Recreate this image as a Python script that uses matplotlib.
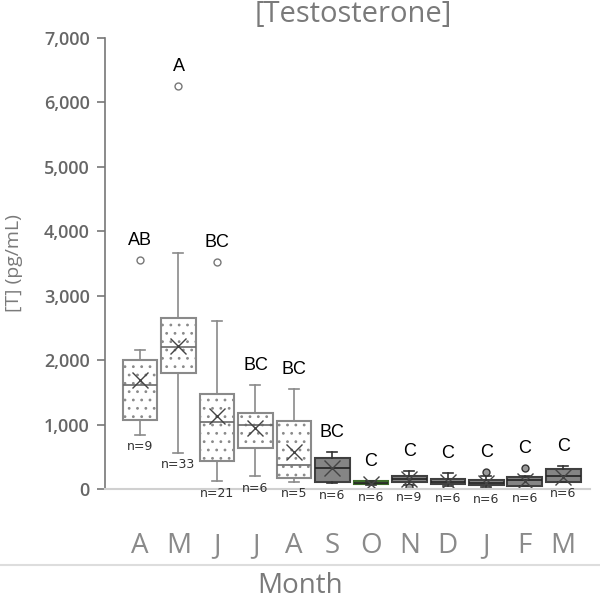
import numpy as np
import matplotlib
matplotlib.use('Agg')
import matplotlib.pyplot as plt
from matplotlib.lines import Line2D

# box statistics (pg/mL)
months = ['A', 'M', 'J', 'J', 'A', 'S', 'O', 'N', 'D', 'J', 'F', 'M']
whislo = [840, 560, 120, 200, 110, 90, 60, 60, 40, 30, 40, 110]
q1 = [1070, 1800, 435, 640, 170, 110, 75, 110, 80, 60, 50, 110]
med = [1610, 2200, 1040, 990, 370, 330, 100, 155, 110, 100, 140, 200]
q3 = [2000, 2660, 1475, 1180, 1060, 480, 125, 200, 155, 140, 190, 310]
whishi = [2160, 3660, 2610, 1610, 1550, 570, 130, 280, 250, 200, 200, 360]
means = [1690, 2220, 1130, 950, 570, 320, 75, 150, 110, 90, 120, 190]
fliers = [[3550], [6260], [3520], [], [], [], [], [35], [], [260], [330], []]
letters = ['AB', 'A', 'BC', 'BC', 'BC', 'BC', 'C', 'C', 'C', 'C', 'C', 'C']
n_obs = [9, 33, 21, 6, 5, 6, 6, 9, 6, 6, 6, 6]

plt.rcParams['hatch.color'] = '#a8a8a8'
plt.rcParams['hatch.linewidth'] = 0.8

fig = plt.figure(figsize=(6.0, 5.99), dpi=100)
ax = fig.add_axes([0.175, 0.1836, 0.808, 0.753])

stats = []
for i in range(len(months)):
    stats.append(dict(whislo=whislo[i], q1=q1[i], med=med[i], q3=q3[i],
                      whishi=whishi[i], mean=means[i], fliers=fliers[i]))

pos = np.arange(len(months))
bp = ax.bxp(stats, positions=pos, widths=0.9, patch_artist=True,
            showmeans=True, capwidths=0.26, manage_ticks=False)

for i, box in enumerate(bp['boxes']):
    spring = i < 5
    if spring:
        box.set_facecolor('white')
        box.set_edgecolor('#8a8a8a')
        box.set_hatch('..')
        lc = '#8a8a8a'
    elif i == 6:  # October box is green
        box.set_facecolor('#7f9a70')
        box.set_edgecolor('#3d6b2a')
        lc = '#333333'
    else:
        box.set_facecolor('#858585')
        box.set_edgecolor('#404040')
        lc = '#333333'
    box.set_linewidth(1.5)
    for w in bp['whiskers'][2 * i:2 * i + 2]:
        w.set_color(lc)
        w.set_linewidth(1.2)
    for c in bp['caps'][2 * i:2 * i + 2]:
        c.set_color(lc)
        c.set_linewidth(1.2)
    bp['medians'][i].set_color('#6a6a6a' if spring else '#222222')
    bp['medians'][i].set_linewidth(1.2)
    m = bp['means'][i]
    m.set_marker('x')
    m.set_markersize(11)
    m.set_markeredgecolor('#444444')
    m.set_markeredgewidth(1.0)
    f = bp['fliers'][i]
    f.set_marker('o')
    f.set_markersize(5)
    if spring:
        f.set_markerfacecolor('white')
        f.set_markeredgecolor('#777777')
    else:
        f.set_markerfacecolor('#9a9a9a')
        f.set_markeredgecolor('#333333')
    f.set_markeredgewidth(1.0)

# significance letters and sample sizes
for i in range(len(months)):
    top = max([whishi[i]] + fliers[i])
    ax.annotate(letters[i], (pos[i], top), xytext=(0, 8), textcoords='offset points',
                ha='center', va='bottom', fontsize=13, color='black',
                family='Liberation Sans')
    ax.annotate('n=%d' % n_obs[i], (pos[i], whislo[i]), xytext=(0, -4),
                textcoords='offset points', ha='center', va='top',
                fontsize=9, color='#333333', family='DejaVu Sans')

ax.set_xlim(-0.91, 11.69)
ax.set_ylim(0, 7000)
ax.set_yticks(np.arange(0, 7001, 1000))
ax.set_yticklabels(['{:,}'.format(v) for v in range(0, 7001, 1000)],
                   fontsize=13, color='#666666', family='Open Sans', fontweight='semibold')
ax.tick_params(axis='y', length=6, width=1.2, color='#777777', pad=5)
ax.set_xticks(pos)
ax.set_xticklabels(months, fontsize=20, color='#8a8a8a', family='Open Sans')
ax.tick_params(axis='x', length=0, pad=31)

for s in ['top', 'right']:
    ax.spines[s].set_visible(False)
ax.spines['left'].set_color('#777777')
ax.spines['left'].set_linewidth(1.2)
ax.spines['bottom'].set_color('#d0d0d0')
ax.spines['bottom'].set_linewidth(1.5)

ax.set_ylabel('[T] (pg/mL)', fontsize=14, color='#7a7a7a', family='Open Sans')
ax.yaxis.set_label_coords(-0.17, 0.5)

fig.text(0.589, 0.975, '[Testosterone]', ha='center', va='center', fontsize=21,
         color='#7a7a7a', family='Open Sans')
fig.add_artist(Line2D([0, 1], [0.0568, 0.0568], color='#dddddd', linewidth=1.5,
                      transform=fig.transFigure))
fig.text(0.5, 0.022, 'Month', ha='center', va='center', fontsize=20,
         color='#7a7a7a', family='Open Sans')

fig.savefig('out.png', dpi=100)
